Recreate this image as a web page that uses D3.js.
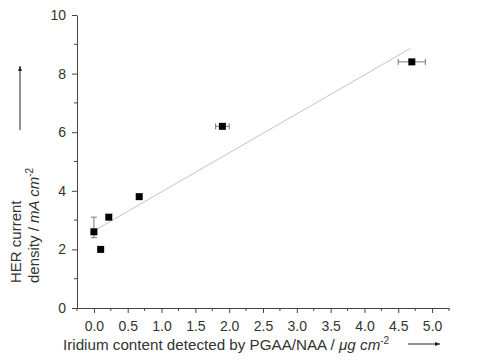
<!DOCTYPE html>
<html>
<head>
<meta charset="utf-8">
<script src="https://cdn.jsdelivr.net/npm/d3@7"></script>
<style>
  body { margin: 0; background: #fff; }
  text { font-family: Arial, "Liberation Sans", sans-serif; }
</style>
</head>
<body>
<svg id="chart" width="482" height="363"></svg>
<script>
// measured points (Ir content in ug/cm2, HER current density in mA/cm2)
var irContent = [0.0, 0.1, 0.22, 0.67, 1.9, 4.7];
var herCurrent = [2.6, 2.0, 3.1, 3.8, 6.2, 8.4];
// error bars: [low, high] for y or x, null where none
var yErr = [[2.4, 3.1], null, null, null, null, null];
var xErr = [null, null, null, null, [1.8, 2.0], [4.5, 4.9]];
// linear fit end points
var fitX = [0.02, 4.68];
var fitY = [2.66, 8.86];

var xTicks = [0, 0.5, 1, 1.5, 2, 2.5, 3, 3.5, 4, 4.5, 5];
var xMinor = [-0.25, 0.25, 0.75, 1.25, 1.75, 2.25, 2.75, 3.25, 3.75, 4.25, 4.75, 5.25];
var yTicks = [0, 2, 4, 6, 8, 10];
var yMinor = [1, 3, 5, 7, 9];

var svg = d3.select("#chart");
var axisColor = "#444", textColor = "#333";

var x = d3.scaleLinear().domain([-0.25, 5.25]).range([77, 449]);
var y = d3.scaleLinear().domain([0, 10]).range([308, 15]);

// x axis
var gx = svg.append("g").attr("transform", "translate(0," + y(0) + ")");
gx.call(d3.axisBottom(x).tickValues(xTicks).tickFormat(d3.format(".1f"))
    .tickSizeInner(5).tickSizeOuter(0).tickPadding(8));
gx.append("g").selectAll("line").data(xMinor).join("line")
    .attr("x1", x).attr("x2", x).attr("y1", 0).attr("y2", 3);

// y axis
var gy = svg.append("g").attr("transform", "translate(" + x(-0.25) + ",0)");
gy.call(d3.axisLeft(y).tickValues(yTicks).tickFormat(d3.format("d"))
    .tickSizeInner(5).tickSizeOuter(0).tickPadding(6));
gy.append("g").selectAll("line").data(yMinor).join("line")
    .attr("y1", y).attr("y2", y).attr("x1", 0).attr("x2", -3);

svg.selectAll(".domain, .tick line, g g line").attr("stroke", axisColor);
svg.selectAll(".tick text").attr("fill", textColor)
    .style("font-size", "14px").style("font-family", "Arial, 'Liberation Sans', sans-serif");

// fit line
svg.append("path")
    .datum(d3.zip(fitX, fitY))
    .attr("d", d3.line().x(function (d) { return x(d[0]); }).y(function (d) { return y(d[1]); }))
    .attr("fill", "none")
    .attr("stroke", "#c4c4c4")
    .attr("stroke-width", 1);

// error bars
var pts = irContent.map(function (v, i) {
    return { x: v, y: herCurrent[i], ye: yErr[i], xe: xErr[i] };
});
var eb = svg.append("g").attr("stroke", "#777").attr("stroke-width", 1).attr("fill", "none");
pts.forEach(function (p) {
    if (p.ye) {
        eb.append("line").attr("x1", x(p.x)).attr("x2", x(p.x)).attr("y1", y(p.ye[0])).attr("y2", y(p.ye[1]));
        p.ye.forEach(function (v) {
            eb.append("line").attr("x1", x(p.x) - 3).attr("x2", x(p.x) + 3).attr("y1", y(v)).attr("y2", y(v));
        });
    }
    if (p.xe) {
        eb.append("line").attr("y1", y(p.y)).attr("y2", y(p.y)).attr("x1", x(p.xe[0])).attr("x2", x(p.xe[1]));
        p.xe.forEach(function (v) {
            eb.append("line").attr("y1", y(p.y) - 3).attr("y2", y(p.y) + 3).attr("x1", x(v)).attr("x2", x(v));
        });
    }
});

// markers
svg.append("g").selectAll("rect").data(pts).join("rect")
    .attr("x", function (d) { return x(d.x) - 3.5; })
    .attr("y", function (d) { return y(d.y) - 3.5; })
    .attr("width", 7).attr("height", 7)
    .attr("fill", "#000");

// arrow marker
svg.append("defs").append("marker")
    .attr("id", "arr").attr("viewBox", "0 0 10 10").attr("refX", 10).attr("refY", 5)
    .attr("markerWidth", 5).attr("markerHeight", 5).attr("orient", "auto")
    .append("path").attr("d", "M0,1L10,5L0,9Z").attr("fill", "#222");

// x label
var xl = svg.append("text").attr("x", 63).attr("y", 350)
    .attr("fill", textColor).style("font-size", "15.2px");
xl.append("tspan").text("Iridium content detected by PGAA/NAA / ");
xl.append("tspan").attr("font-style", "italic").text("μg cm");
xl.append("tspan").attr("dy", -6).style("font-size", "10px").text("-2");
svg.append("line").attr("x1", 408).attr("x2", 440).attr("y1", 344).attr("y2", 344)
    .attr("stroke", "#222").attr("marker-end", "url(#arr)");

// y label
var yl = svg.append("g").attr("transform", "translate(21,283) rotate(-90)");
yl.append("text").attr("x", 0).attr("y", 0).attr("fill", textColor)
    .style("font-size", "15px").text("HER current");
var yl2 = yl.append("text").attr("x", 0).attr("y", 18).attr("fill", textColor).style("font-size", "15px");
yl2.append("tspan").text("density / ");
yl2.append("tspan").attr("font-style", "italic").text("mA cm");
yl2.append("tspan").attr("dy", -6).style("font-size", "10px").text("-2");
svg.append("line").attr("x1", 20).attr("x2", 20).attr("y1", 130).attr("y2", 66)
    .attr("stroke", "#222").attr("marker-end", "url(#arr)");
</script>
</body>
</html>
